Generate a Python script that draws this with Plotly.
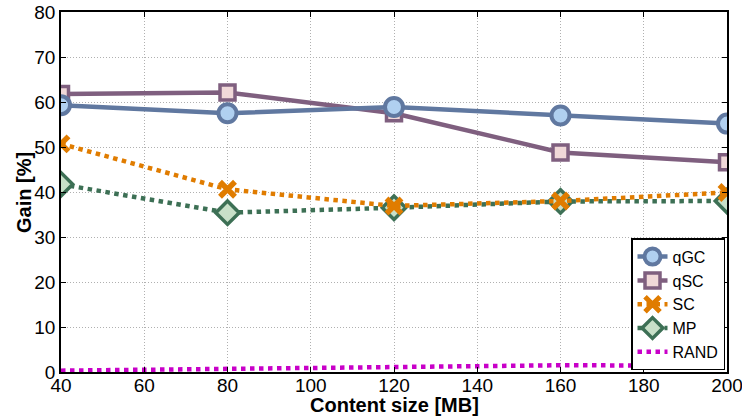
import plotly.graph_objects as go

x = [40, 80, 120, 160, 200]
qgc = [59.3, 57.5, 58.9, 57.0, 55.2]
qsc = [61.8, 62.1, 57.5, 48.8, 46.6]
sc = [50.7, 40.6, 36.9, 38.0, 39.9]
mp = [41.7, 35.4, 36.5, 37.9, 38.0]
rand = [0.3, 0.7, 1.0, 1.5, 1.4]

x_ticks = [40, 60, 80, 100, 120, 140, 160, 180, 200]
y_ticks = [0, 10, 20, 30, 40, 50, 60, 70, 80]

fig = go.Figure()
fig.add_trace(go.Scatter(x=x, y=rand, name="RAND", mode="lines",
                         line=dict(color="#C800C8", width=4.5, dash="dot")))
fig.add_trace(go.Scatter(x=x, y=mp, name="MP", mode="lines+markers",
                         line=dict(color="#3D7055", width=4.5, dash="dot"),
                         marker=dict(symbol="diamond", size=18, color="#C8E0C8",
                                     line=dict(color="#3D7055", width=3.5))))
fig.add_trace(go.Scatter(x=x, y=sc, name="SC", mode="lines+markers",
                         line=dict(color="#E07C00", width=4.5, dash="dot"),
                         marker=dict(symbol="x-thin", size=15, color="#E07C00",
                                     line=dict(color="#E07C00", width=5.5))))
fig.add_trace(go.Scatter(x=x, y=qsc, name="qSC", mode="lines+markers",
                         line=dict(color="#7F5F7F", width=4.5),
                         marker=dict(symbol="square", size=15, color="#F0D8D8",
                                     line=dict(color="#7F5F7F", width=3.5))))
fig.add_trace(go.Scatter(x=x, y=qgc, name="qGC", mode="lines+markers",
                         line=dict(color="#6078A0", width=4.5),
                         marker=dict(symbol="circle", size=18, color="#B0D0F0",
                                     line=dict(color="#6078A0", width=4))))

fig.update_layout(
    width=742, height=420,
    margin=dict(l=61, r=15, t=12, b=48),
    paper_bgcolor="white", plot_bgcolor="white",
    font=dict(family="Liberation Sans, Arial, sans-serif", size=19, color="black"),
    showlegend=True,
    legend=dict(x=0.997, y=0.005, xanchor="right", yanchor="bottom",
                traceorder="reversed", bgcolor="white",
                bordercolor="black", borderwidth=1.5,
                font=dict(size=16), itemwidth=30, tracegroupgap=0,
                itemsizing="trace"),
    xaxis=dict(range=[40, 200], tickvals=x_ticks, ticks="inside", ticklen=5,
               tickcolor="black", showline=True, linecolor="black", linewidth=1.5,
               mirror="allticks", showgrid=True, gridcolor="#B0B0B0",
               griddash="1px,2px", gridwidth=1, zeroline=False, automargin=False,
               ticklabelstandoff=-5, ticklabeloverflow="allow"),
    yaxis=dict(range=[0, 80], tickvals=y_ticks, ticks="inside", ticklen=5,
               tickcolor="black", showline=True, linecolor="black", linewidth=1.5,
               mirror="allticks", showgrid=True, gridcolor="#B0B0B0",
               griddash="1px,2px", gridwidth=1, zeroline=False, automargin=False),
    annotations=[
        dict(text="<b>Content size [MB]</b>", xref="paper", yref="paper",
             x=0.5, y=-0.093, xanchor="center", yanchor="middle",
             showarrow=False, font=dict(size=20)),
        dict(text="<b>Gain [%]</b>", xref="paper", yref="paper",
             x=-0.0556, y=0.5, xanchor="center", yanchor="middle", textangle=-90,
             showarrow=False, font=dict(size=20)),
    ],
)

fig.write_html("out.html", post_script="document.body.style.margin='0';",
               config={"displayModeBar": False})
